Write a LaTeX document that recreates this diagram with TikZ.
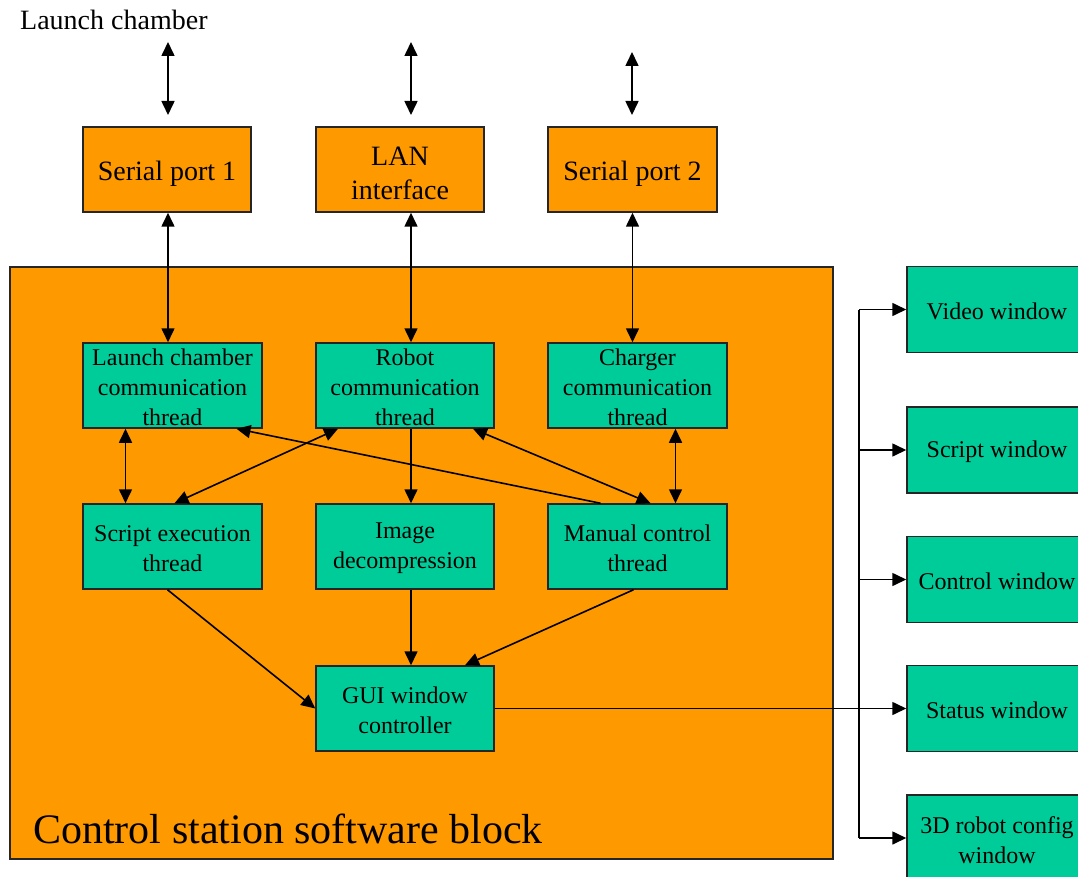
\documentclass[tikz,border=0pt]{standalone}
\usepackage{fontspec}
\setmainfont{Liberation Serif}
\usetikzlibrary{arrows.meta}
\definecolor{orng}{HTML}{FF9900}
\definecolor{grn}{HTML}{00CC99}
\definecolor{edge}{HTML}{262626}
\newcommand\dnA[1]{\raisebox{-4pt}[\height][\depth]{#1}}
\newcommand\dnB[1]{\raisebox{-2pt}[\height][\depth]{#1}}
\begin{document}
\begin{tikzpicture}[x=1pt,y=-1pt,
  obox/.style={draw=edge,line width=1.5pt,fill=orng,inner sep=0pt,align=center,
    minimum width=168pt,minimum height=85pt,font=\fontsize{28}{34}\selectfont},
  gbox/.style={draw=edge,line width=1.5pt,fill=grn,inner sep=0pt,align=center,
    minimum width=179pt,minimum height=85pt,font=\fontsize{24}{30}\selectfont},
  wbox/.style={gbox,minimum width=180pt,minimum height=86pt},
  conn/.style={line width=1.6pt,black},
  arr/.style={conn,-{Triangle[length=14pt,width=13pt]}},
  darr/.style={conn,{Triangle[length=14pt,width=13pt]}-{Triangle[length=14pt,width=13pt]}}]
\useasboundingbox (0,0) rectangle (1078,877);
% container
\node[draw=edge,line width=1.5pt,fill=orng,minimum width=823pt,minimum height=592pt,inner sep=0pt] (blk) at (421.5,563) {};
\node[anchor=base west,inner sep=0pt,font=\fontsize{42}{50}\selectfont] (blklbl) at (33,843) {Control station software block};
% top label
\node[anchor=base west,inner sep=0pt,font=\fontsize{28}{34}\selectfont] (lch) at (20,30) {Launch chamber};
% ports
\node[obox] (sp1) at (167,169.5) {\dnA{Serial port 1}};
\node[obox] (lan) at (400,169.5) {\dnA{LAN}\\\dnA{interface}};
\node[obox,minimum width=169pt] (sp2) at (632.5,169.5) {\dnA{Serial port 2}};
% threads
\node[gbox] (lc) at (172.5,385.5) {\dnB{Launch chamber}\\\dnB{communication}\\\dnB{thread}};
\node[gbox,minimum width=178pt] (rob) at (405,385.5) {\dnB{Robot}\\\dnB{communication}\\\dnB{thread}};
\node[gbox] (chg) at (637.5,385.5) {\dnB{Charger}\\\dnB{communication}\\\dnB{thread}};
\node[gbox] (scr) at (172.5,546.5) {\dnB{Script execution}\\\dnB{thread}};
\node[gbox,minimum width=178pt] (img) at (405,546.5) {\dnB{Image}\\\dnB{decompression}};
\node[gbox] (man) at (637.5,546.5) {\dnB{Manual control}\\\dnB{thread}};
\node[gbox,minimum width=178pt] (gui) at (405,708.5) {\dnB{GUI window}\\\dnB{controller}};
% windows
\node[wbox] (vid) at (997,309.5) {\dnB{Video window}};
\node[wbox] (scw) at (997,450) {\dnB{Script window}};
\node[wbox] (ctl) at (997,579.5) {\dnB{Control window}};
\node[wbox] (sta) at (997,708.5) {\dnB{Status window}};
\node[wbox] (cfg) at (997,838) {\dnB{3D robot config}\\\dnB{window}};
% free ends
\coordinate (e1a) at (168,42);  \coordinate (e1b) at (168,115);
\coordinate (e2a) at (411,42);  \coordinate (e2b) at (411,115);
\coordinate (e3a) at (632,52);  \coordinate (e3b) at (632,115);
\coordinate (bus) at (859,0);
% external
\draw[darr] (e1a) -- (e1b);
\draw[darr] (e2a) -- (e2b);
\draw[darr] (e3a) -- (e3b);
% ports to threads
\draw[darr] ([xshift=1pt]sp1.south) -- ([xshift=1pt]sp1.south |- lc.north);
\draw[darr] ([xshift=11pt]lan.south) -- ([xshift=11pt]lan.south |- rob.north);
\draw[darr] (sp2.south) -- (sp2.south |- chg.north);
% thread links
\draw[darr] ([xshift=-47pt]lc.south) -- ([xshift=-47pt]scr.north);
\draw[darr] ([xshift=38pt]chg.south) -- ([xshift=38pt]man.north);
\draw[arr] ([xshift=6pt]rob.south) -- ([xshift=6pt]img.north);
\draw[darr] ([xshift=2pt]scr.north) -- ([xshift=-67pt]rob.south);
\draw[arr] ([xshift=-37pt]man.north) -- ([xshift=64pt]lc.south);
\draw[darr] ([xshift=68pt]rob.south) -- ([xshift=13pt]man.north);
\draw[arr] ([xshift=-5pt]scr.south) -- (gui.west);
\draw[arr] ([xshift=6pt]img.south) -- ([xshift=6pt]gui.north);
\draw[arr] ([xshift=-4pt]man.south) -- ([xshift=60pt]gui.north);
% GUI to windows
\draw[conn] (gui.east) -- (gui.east -| bus);
\draw[conn] (bus |- vid.west) -- (bus |- cfg.west);
\foreach \w in {vid,scw,ctl,sta,cfg}
  \draw[arr] (bus |- \w.west) -- (\w.west);
\end{tikzpicture}
\end{document}
